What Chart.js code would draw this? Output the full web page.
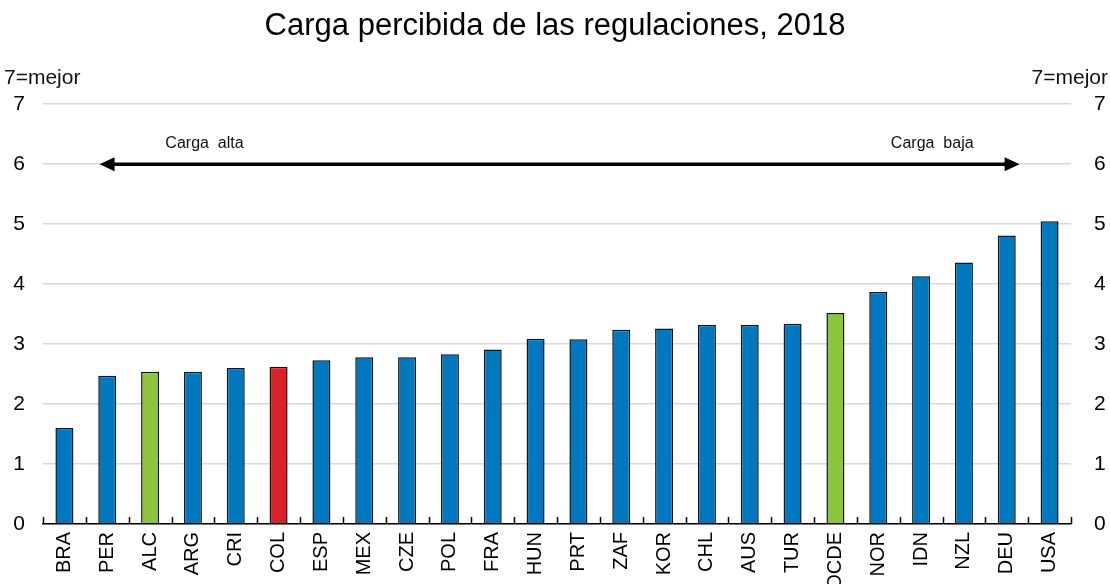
<!DOCTYPE html>
<html>
<head>
<meta charset="utf-8">
<script src="https://cdn.jsdelivr.net/npm/chart.js@4.4.1/dist/chart.umd.min.js"></script>
<style>
  html, body { margin: 0; padding: 0; background: #fff; overflow: hidden; }
  #wrap { width: 1110px; height: 584px; position: relative; }
</style>
</head>
<body>
<div id="wrap"><canvas id="c" width="1110" height="584"></canvas></div>
<script>
const categories = ['BRA','PER','ALC','ARG','CRI','COL','ESP','MEX','CZE','POL','FRA','HUN','PRT','ZAF','KOR','CHL','AUS','TUR','OCDE','NOR','IDN','NZL','DEU','USA'];
const values = [1.6, 2.47, 2.54, 2.54, 2.6, 2.62, 2.73, 2.78, 2.78, 2.83, 2.91, 3.09, 3.08, 3.24, 3.26, 3.32, 3.32, 3.34, 3.52, 3.87, 4.13, 4.36, 4.81, 5.05];
const greenCats = ['ALC', 'OCDE'];
const redCats = ['COL'];
const yTicks = [0, 1, 2, 3, 4, 5, 6, 7];
const titleText = 'Carga percibida de las regulaciones, 2018';
const unitLabel = '7=mejor';
const arrowLabels = ['Carga  alta', 'Carga  baja'];

const BLUE = '#0078bf', GREEN = '#8cc63f', RED = '#d9222a';
const FONT = '"Liberation Sans", Arial, sans-serif';
const barColors = categories.map(c => greenCats.includes(c) ? GREEN : (redCats.includes(c) ? RED : BLUE));

const annotPlugin = {
  id: 'annot',
  afterDatasetsDraw(chart) {
    const ctx = chart.ctx;
    const x = chart.scales.x, y = chart.scales.y;
    ctx.save();
    ctx.strokeStyle = '#000';
    ctx.lineWidth = 1.5;
    const y0 = y.getPixelForValue(0);
    for (let i = 0; i <= categories.length; i++) {
      const px = Math.round(x.getPixelForValue(i - 0.5)) + 0.5;
      ctx.beginPath();
      ctx.moveTo(px, y0);
      ctx.lineTo(px, y0 - 7);
      ctx.stroke();
    }
    const ay = y.getPixelForValue(6);
    const xl = x.getPixelForValue(0.82), xr = x.getPixelForValue(22.3);
    const head = 15, hw = 7;
    ctx.fillStyle = '#000';
    ctx.lineWidth = 3.5;
    ctx.beginPath();
    ctx.moveTo(xl + head - 2, ay);
    ctx.lineTo(xr - head + 2, ay);
    ctx.stroke();
    ctx.beginPath();
    ctx.moveTo(xl, ay); ctx.lineTo(xl + head, ay - hw); ctx.lineTo(xl + head, ay + hw); ctx.closePath(); ctx.fill();
    ctx.beginPath();
    ctx.moveTo(xr, ay); ctx.lineTo(xr - head, ay - hw); ctx.lineTo(xr - head, ay + hw); ctx.closePath(); ctx.fill();
    ctx.font = '16px ' + FONT;
    ctx.fillStyle = '#111';
    ctx.textAlign = 'center';
    ctx.textBaseline = 'middle';
    const ly = y.getPixelForValue(6.35);
    ctx.fillText(arrowLabels[0], x.getPixelForValue(3.27), ly);
    ctx.fillText(arrowLabels[1], x.getPixelForValue(20.26), ly);
    ctx.font = '21px ' + FONT;
    const uy = y.getPixelForValue(7) - 26;
    ctx.textAlign = 'left';
    ctx.fillText(unitLabel, 4, uy);
    ctx.textAlign = 'right';
    ctx.fillText(unitLabel, chart.width - 2, uy);
    ctx.restore();
  }
};

new Chart(document.getElementById('c'), {
  type: 'bar',
  data: {
    labels: categories,
    datasets: [{
      data: values,
      backgroundColor: barColors,
      borderColor: '#111',
      borderWidth: 1.5,
      barPercentage: 0.42,
      categoryPercentage: 1.0,
      yAxisID: 'y'
    }]
  },
  options: {
    responsive: false,
    animation: false,
    devicePixelRatio: 1,
    layout: { padding: 0 },
    plugins: {
      legend: { display: false },
      tooltip: { enabled: false },
      title: {
        display: true,
        text: titleText,
        color: '#000',
        font: { family: FONT, size: 31, weight: 'normal' },
        padding: { top: 8, bottom: 59 }
      }
    },
    scales: {
      x: {
        type: 'category',
        offset: true,
        grid: { display: false },
        border: { display: true, color: '#000', width: 1.5 },
        ticks: {
          color: '#000',
          font: { family: FONT, size: 20 },
          maxRotation: 90, minRotation: 90,
          autoSkip: false,
          padding: 0
        },
        afterFit(s) { s.height = 60; }
      },
      y: {
        position: 'left',
        min: 0, max: 7,
        afterBuildTicks(s) { s.ticks = yTicks.map(v => ({ value: v })); },
        grid: { color: '#d9d9d9', lineWidth: 1.5, drawTicks: false },
        border: { display: false },
        ticks: { color: '#000', font: { family: FONT, size: 21 }, padding: 18 },
        afterFit(s) { s.width = 43; }
      },
      y2: {
        position: 'right',
        min: 0, max: 7,
        afterBuildTicks(s) { s.ticks = yTicks.map(v => ({ value: v })); },
        grid: { drawOnChartArea: false, drawTicks: false },
        border: { display: false },
        ticks: { color: '#000', font: { family: FONT, size: 21 }, padding: 23 },
        afterFit(s) { s.width = 39; }
      }
    }
  },
  plugins: [annotPlugin]
});
</script>
</body>
</html>
